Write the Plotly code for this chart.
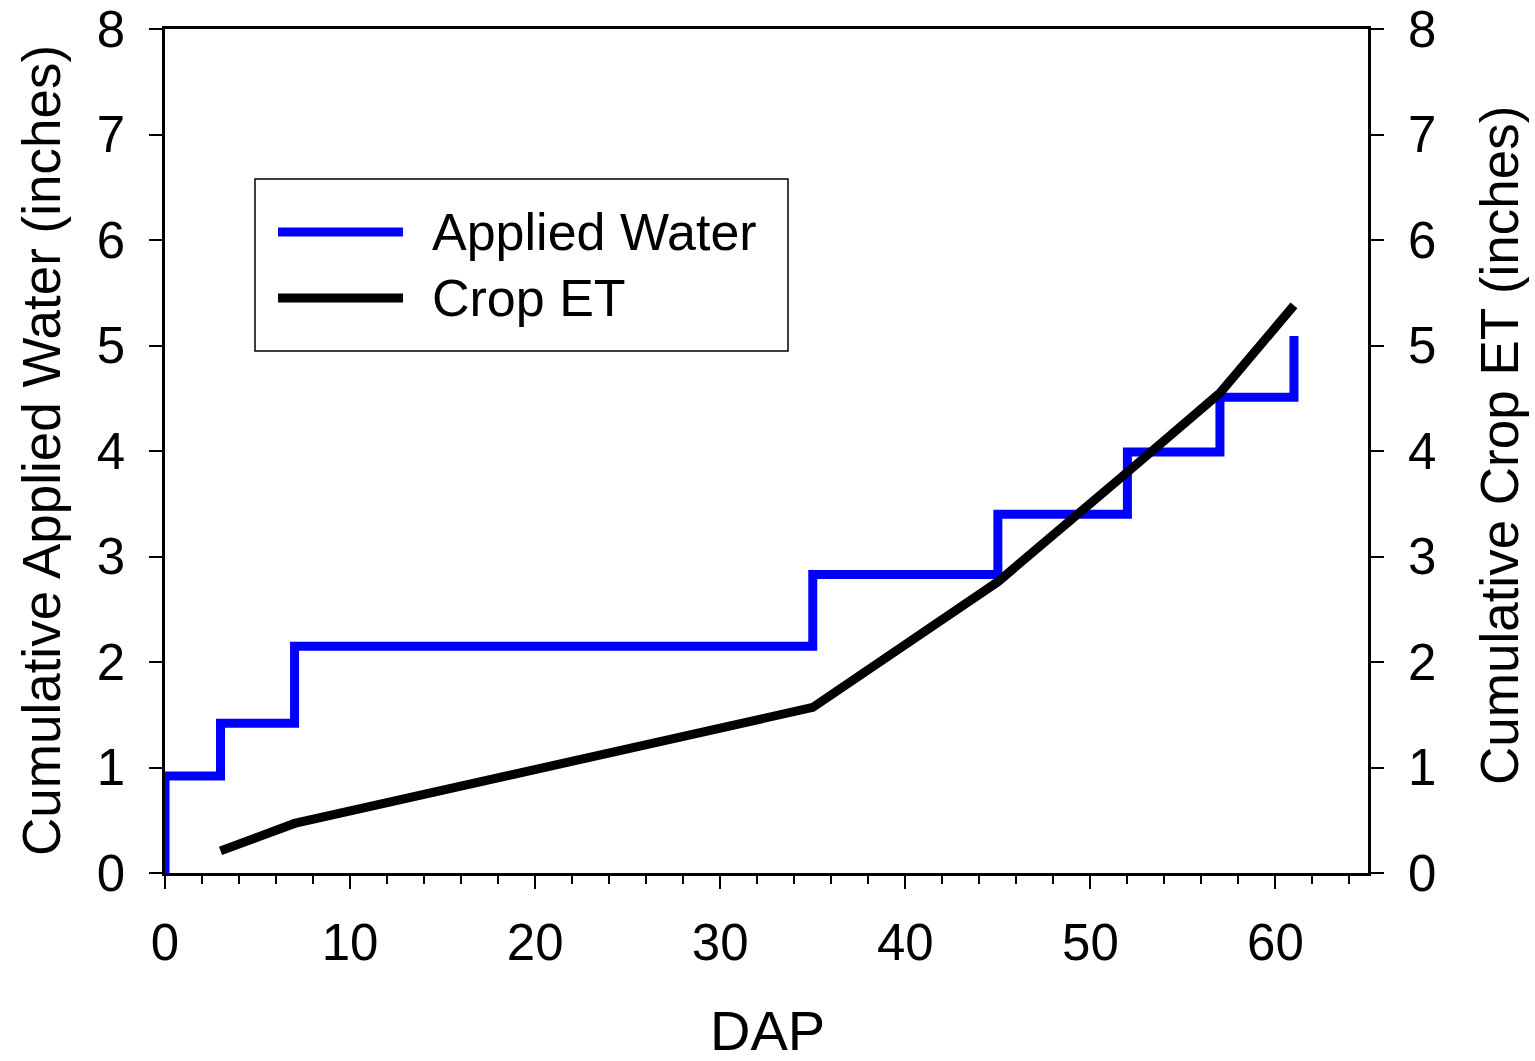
import plotly.graph_objects as go

# Applied water (step series), DAP vs cumulative inches
applied_dap = [0, 0, 3, 7, 35, 45, 52, 57, 61, 61]
applied_in = [0, 0.92, 1.42, 2.15, 2.83, 3.40, 3.99, 4.51, 4.51, 5.09]

# Crop ET
et_dap = [3, 7, 35, 45, 52, 57, 61]
et_in = [0.21, 0.47, 1.57, 2.76, 3.80, 4.55, 5.38]

x_ticks = [0, 10, 20, 30, 40, 50, 60]
y_ticks = [0, 1, 2, 3, 4, 5, 6, 7, 8]

FONT = "Arial, Liberation Sans, Helvetica, sans-serif"
BLUE = "#0000FF"
BLACK = "#000000"

fig = go.Figure()
fig.add_trace(go.Scatter(x=applied_dap, y=applied_in, mode="lines", line_shape="hv",
                         line=dict(color=BLUE, width=9), name="Applied Water",
                         showlegend=False))
fig.add_trace(go.Scatter(x=et_dap, y=et_in, mode="lines", yaxis="y2",
                         line=dict(color=BLACK, width=9), name="Crop ET",
                         showlegend=False))

L, R, T, B = 165, 167, 29, 188
W, H = 1535, 1061
pw, ph = W - L - R, H - T - B

def px(xp):
    return (xp - L) / pw

def py(yp):
    return (H - B - yp) / ph

axis_common = dict(ticks="outside", ticklen=13, tickwidth=2, tickcolor="black",
                   showline=True, linecolor="black", linewidth=2.5,
                   showgrid=False, zeroline=False, automargin=False,
                   tickfont=dict(size=51))

fig.update_layout(
    width=W, height=H,
    margin=dict(l=L, r=R, t=T, b=B, pad=0, autoexpand=False),
    paper_bgcolor="white", plot_bgcolor="white",
    font=dict(family=FONT, size=51, color="black"),
    xaxis=dict(range=[0, 65], tickvals=x_ticks, mirror=True, ticklabelstandoff=10,
               minor=dict(dtick=2, tick0=0, ticks="outside", ticklen=8, tickwidth=2,
                          tickcolor="black", showgrid=False),
               **axis_common),
    yaxis=dict(range=[0, 8], tickvals=y_ticks, ticklabelstandoff=14, **axis_common),
    yaxis2=dict(range=[0, 8], tickvals=y_ticks, overlaying="y", side="right",
                ticklabelstandoff=14, **axis_common),
    showlegend=False,
)

# Axis titles
fig.add_annotation(text="Cumulative Applied Water (inches)", xref="paper", yref="paper",
                   x=px(41), y=py(451), textangle=-90, showarrow=False,
                   xanchor="center", yanchor="middle", font=dict(size=53))
fig.add_annotation(text="Cumulative Crop ET (inches)", xref="paper", yref="paper",
                   x=px(1499), y=py(446), textangle=-90, showarrow=False,
                   xanchor="center", yanchor="middle", font=dict(size=53))
fig.add_annotation(text="DAP", xref="paper", yref="paper",
                   x=px(767), y=py(1030), showarrow=False,
                   xanchor="center", yanchor="middle", font=dict(size=56))

# Custom legend box
fig.add_shape(type="rect", xref="paper", yref="paper",
              x0=px(255), x1=px(788), y0=py(351), y1=py(179),
              line=dict(color="black", width=1.5), fillcolor="white", layer="above")
fig.add_shape(type="line", xref="paper", yref="paper",
              x0=px(278), x1=px(403), y0=py(232), y1=py(232),
              line=dict(color=BLUE, width=9), layer="above")
fig.add_shape(type="line", xref="paper", yref="paper",
              x0=px(278), x1=px(403), y0=py(298), y1=py(298),
              line=dict(color=BLACK, width=9), layer="above")
fig.add_annotation(text="Applied Water", xref="paper", yref="paper",
                   x=px(430), y=py(232), showarrow=False,
                   xanchor="left", yanchor="middle", font=dict(size=52))
fig.add_annotation(text="Crop ET", xref="paper", yref="paper",
                   x=px(430), y=py(298), showarrow=False,
                   xanchor="left", yanchor="middle", font=dict(size=52))

fig.write_html("out.html", config={"displayModeBar": False},
               post_script="document.body.style.margin='0px';document.body.style.overflow='hidden';")
